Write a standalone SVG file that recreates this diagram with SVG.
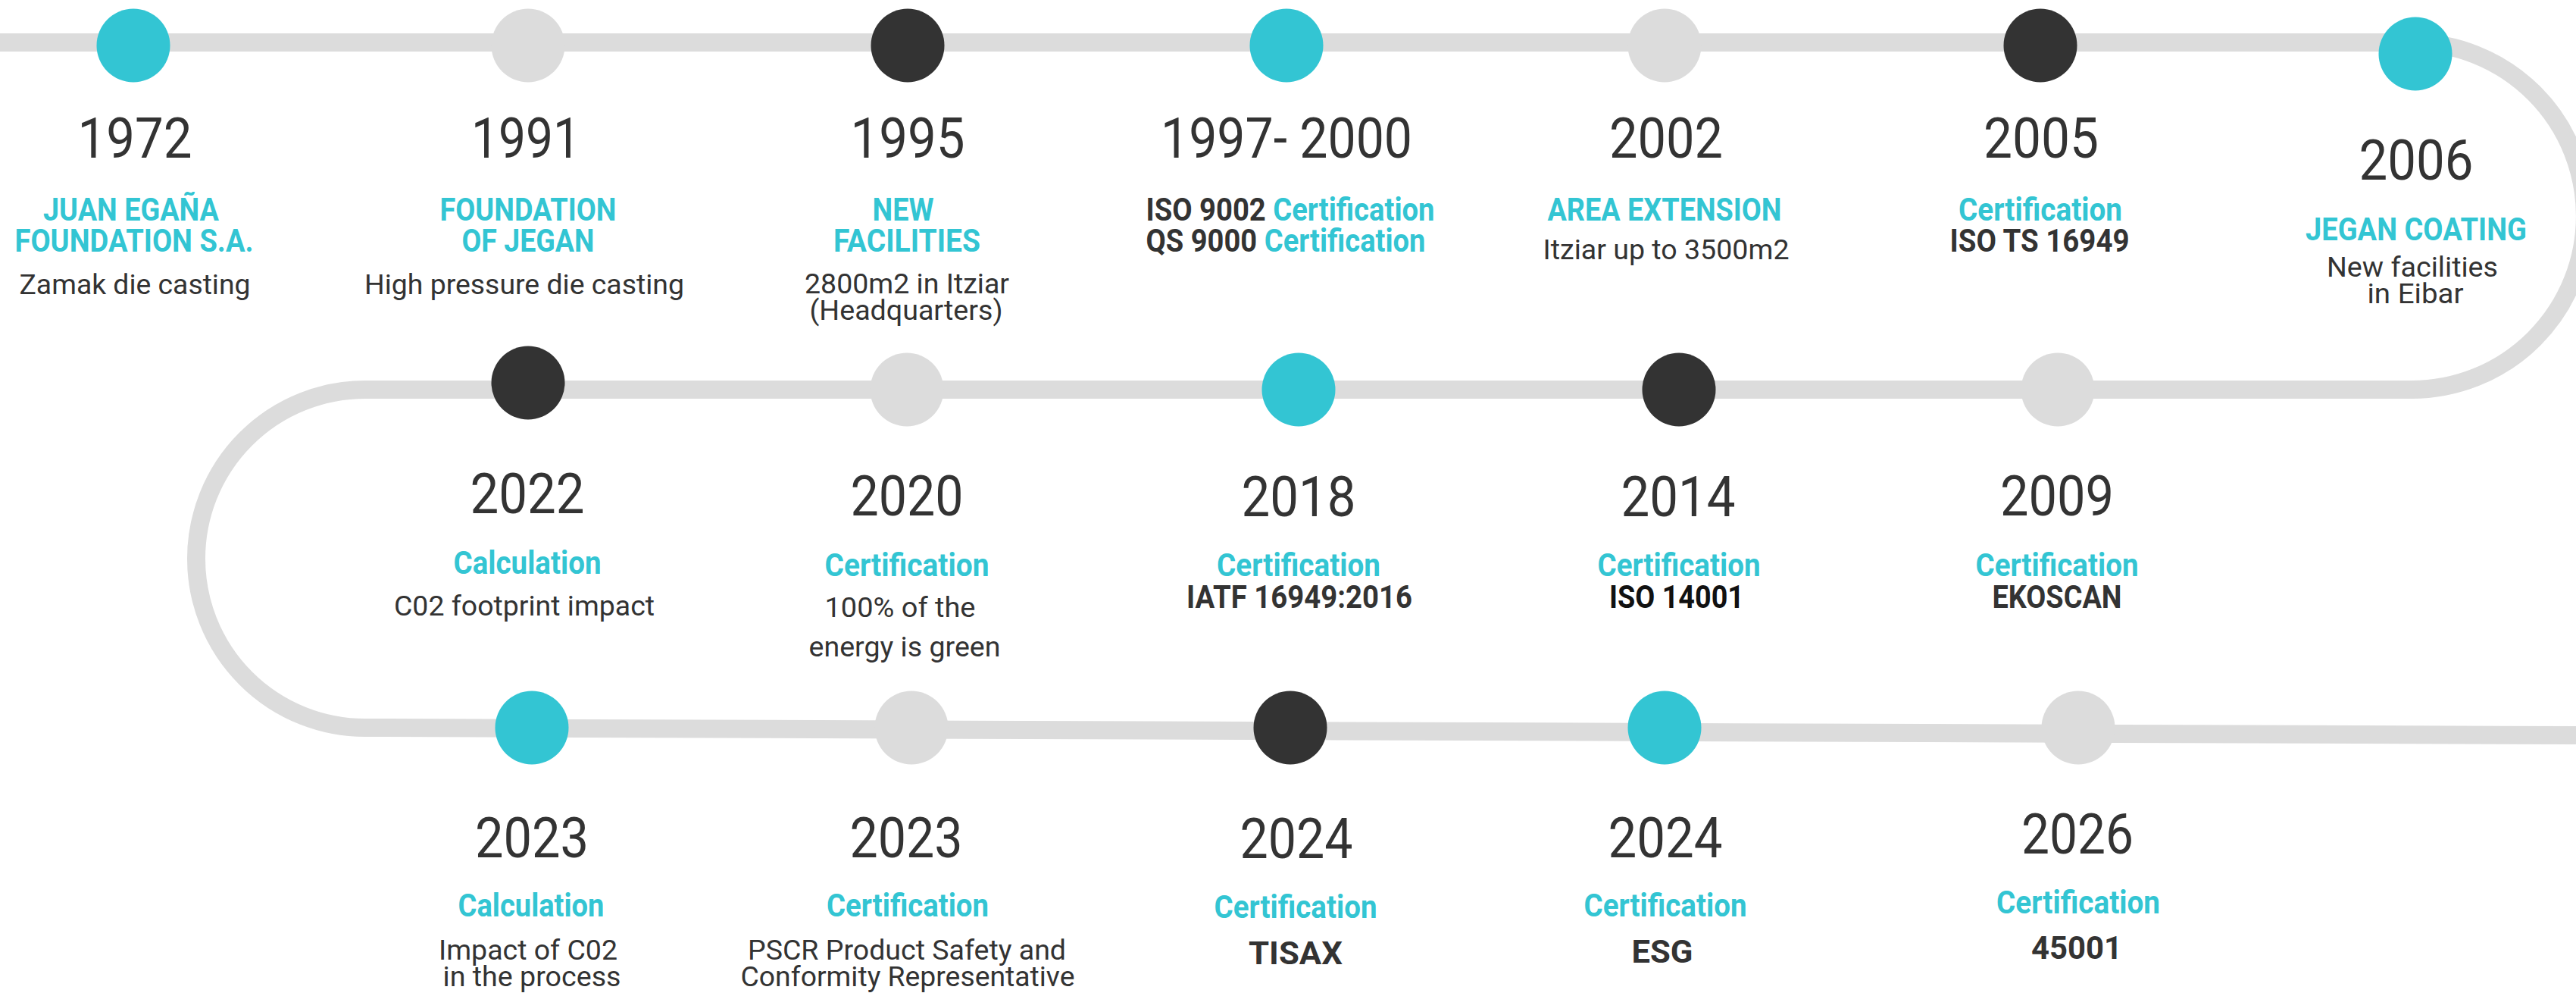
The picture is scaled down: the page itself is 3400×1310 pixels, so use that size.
<svg xmlns="http://www.w3.org/2000/svg" width="3400" height="1310" viewBox="0 0 3400 1310">
<style>
text{font-family:Roboto,"Liberation Sans",sans-serif;text-anchor:middle}
.yr{font-size:75px;font-weight:400;fill:#333}
.hd{font-size:42px;font-weight:700;fill:#33c5d3}
.bd{font-size:42px;font-weight:700;fill:#333}
.tx{font-size:37px;font-weight:400;fill:#333}
.t{fill:#33c5d3}
.c1{fill:#33c5d3}.c2{fill:#dcdcdc}.c3{fill:#333}
.path{fill:none;stroke:#dcdcdc;stroke-width:24}
</style>
<rect width="3400" height="1310" fill="#fff"/>
<g id="connectors">
<path class="path" d="M0 56 H3183 A229 229 0 0 1 3183 514 H482 A223 223 0 0 0 482 960 L3400 970"/>
</g>
<g id="n1972">
<circle class="c1" cx="176" cy="60" r="48.5"/>
<text class="yr" x="178" y="208" textLength="151" lengthAdjust="spacingAndGlyphs">1972</text>
<text class="hd" x="173" y="291" textLength="232" lengthAdjust="spacingAndGlyphs">JUAN EGAÑA</text>
<text class="hd" x="177" y="332" textLength="315" lengthAdjust="spacingAndGlyphs">FOUNDATION S.A.</text>
<text class="tx" x="178" y="388" textLength="305" lengthAdjust="spacingAndGlyphs">Zamak die casting</text>
</g>
<g id="n1991">
<circle class="c2" cx="697" cy="60" r="48.5"/>
<text class="yr" x="694" y="208" textLength="144" lengthAdjust="spacingAndGlyphs">1991</text>
<text class="hd" x="697" y="291" textLength="233" lengthAdjust="spacingAndGlyphs">FOUNDATION</text>
<text class="hd" x="697" y="332" textLength="175" lengthAdjust="spacingAndGlyphs">OF JEGAN</text>
<text class="tx" x="692" y="388" textLength="422" lengthAdjust="spacingAndGlyphs">High pressure die casting</text>
</g>
<g id="n1995">
<circle class="c3" cx="1198" cy="60" r="48.5"/>
<text class="yr" x="1198" y="208" textLength="151" lengthAdjust="spacingAndGlyphs">1995</text>
<text class="hd" x="1192" y="291" textLength="81" lengthAdjust="spacingAndGlyphs">NEW</text>
<text class="hd" x="1197" y="332" textLength="194" lengthAdjust="spacingAndGlyphs">FACILITIES</text>
<text class="tx" x="1197" y="387" textLength="270" lengthAdjust="spacingAndGlyphs">2800m2 in Itziar</text>
<text class="tx" x="1196" y="422" textLength="255" lengthAdjust="spacingAndGlyphs">(Headquarters)</text>
</g>
<g id="n1997">
<circle class="c1" cx="1698" cy="60" r="48.5"/>
<text class="yr" x="1698" y="208" textLength="332" lengthAdjust="spacingAndGlyphs">1997- 2000</text>
<text class="bd" x="1703" y="291" textLength="381" lengthAdjust="spacingAndGlyphs">ISO 9002 <tspan class="t">Certification</tspan></text>
<text class="bd" x="1697" y="332" textLength="369" lengthAdjust="spacingAndGlyphs">QS 9000 <tspan class="t">Certification</tspan></text>
</g>
<g id="n2002">
<circle class="c2" cx="2197" cy="60" r="48.5"/>
<text class="yr" x="2199" y="208" textLength="150" lengthAdjust="spacingAndGlyphs">2002</text>
<text class="hd" x="2197" y="291" textLength="309" lengthAdjust="spacingAndGlyphs">AREA EXTENSION</text>
<text class="tx" x="2199" y="342" textLength="325" lengthAdjust="spacingAndGlyphs">Itziar up to 3500m2</text>
</g>
<g id="n2005">
<circle class="c3" cx="2693" cy="60" r="48.5"/>
<text class="yr" x="2694" y="208" textLength="152" lengthAdjust="spacingAndGlyphs">2005</text>
<text class="hd" x="2693" y="291" textLength="216" lengthAdjust="spacingAndGlyphs">Certification</text>
<text class="bd" x="2692" y="332" textLength="237" lengthAdjust="spacingAndGlyphs">ISO TS 16949</text>
</g>
<g id="n2006">
<circle class="c1" cx="3188" cy="71" r="48.5"/>
<text class="yr" x="3189" y="237" textLength="151" lengthAdjust="spacingAndGlyphs">2006</text>
<text class="hd" x="3189" y="317" textLength="292" lengthAdjust="spacingAndGlyphs">JEGAN COATING</text>
<text class="tx" x="3184" y="365" textLength="226" lengthAdjust="spacingAndGlyphs">New facilities</text>
<text class="tx" x="3188" y="400" textLength="127" lengthAdjust="spacingAndGlyphs">in Eibar</text>
</g>
<g id="n2022">
<circle class="c3" cx="697" cy="505" r="48.5"/>
<text class="yr" x="696" y="677" textLength="151" lengthAdjust="spacingAndGlyphs">2022</text>
<text class="hd" x="696" y="757" textLength="195" lengthAdjust="spacingAndGlyphs">Calculation</text>
<text class="tx" x="692" y="812" textLength="344" lengthAdjust="spacingAndGlyphs">C02 footprint impact</text>
</g>
<g id="n2020">
<circle class="c2" cx="1197" cy="514" r="48.5"/>
<text class="yr" x="1197" y="680" textLength="149" lengthAdjust="spacingAndGlyphs">2020</text>
<text class="hd" x="1197" y="760" textLength="217" lengthAdjust="spacingAndGlyphs">Certification</text>
<text class="tx" x="1188" y="814" textLength="199" lengthAdjust="spacingAndGlyphs">100% of the</text>
<text class="tx" x="1194" y="866" textLength="253" lengthAdjust="spacingAndGlyphs">energy is green</text>
</g>
<g id="n2018">
<circle class="c1" cx="1714" cy="514" r="48.5"/>
<text class="yr" x="1714" y="681" textLength="151" lengthAdjust="spacingAndGlyphs">2018</text>
<text class="hd" x="1714" y="760" textLength="216" lengthAdjust="spacingAndGlyphs">Certification</text>
<text class="bd" x="1715" y="802" textLength="298" lengthAdjust="spacingAndGlyphs">IATF 16949:2016</text>
</g>
<g id="n2014">
<circle class="c3" cx="2216" cy="514" r="48.5"/>
<text class="yr" x="2215" y="681" textLength="151" lengthAdjust="spacingAndGlyphs">2014</text>
<text class="hd" x="2216" y="760" textLength="215" lengthAdjust="spacingAndGlyphs">Certification</text>
<text class="bd" x="2213" y="802" textLength="178" lengthAdjust="spacingAndGlyphs" style="fill:#111">ISO 14001</text>
</g>
<g id="n2009">
<circle class="c2" cx="2716" cy="514" r="48.5"/>
<text class="yr" x="2715" y="680" textLength="150" lengthAdjust="spacingAndGlyphs">2009</text>
<text class="hd" x="2715" y="760" textLength="215" lengthAdjust="spacingAndGlyphs">Certification</text>
<text class="bd" x="2715" y="802" textLength="171" lengthAdjust="spacingAndGlyphs">EKOSCAN</text>
</g>
<g id="n2023a">
<circle class="c1" cx="702" cy="960" r="48.5"/>
<text class="yr" x="702" y="1131" textLength="150" lengthAdjust="spacingAndGlyphs">2023</text>
<text class="hd" x="701" y="1209" textLength="193" lengthAdjust="spacingAndGlyphs">Calculation</text>
<text class="tx" x="697" y="1266" textLength="236" lengthAdjust="spacingAndGlyphs">Impact of C02</text>
<text class="tx" x="702" y="1301" textLength="235" lengthAdjust="spacingAndGlyphs">in the process</text>
</g>
<g id="n2023b">
<circle class="c2" cx="1203" cy="960" r="48.5"/>
<text class="yr" x="1196" y="1131" textLength="149" lengthAdjust="spacingAndGlyphs">2023</text>
<text class="hd" x="1198" y="1209" textLength="214" lengthAdjust="spacingAndGlyphs">Certification</text>
<text class="tx" x="1197" y="1266" textLength="420" lengthAdjust="spacingAndGlyphs">PSCR Product Safety and</text>
<text class="tx" x="1198" y="1301" textLength="441" lengthAdjust="spacingAndGlyphs">Conformity Representative</text>
</g>
<g id="n2024a">
<circle class="c3" cx="1703" cy="960" r="48.5"/>
<text class="yr" x="1711" y="1132" textLength="149" lengthAdjust="spacingAndGlyphs">2024</text>
<text class="hd" x="1710" y="1211" textLength="215" lengthAdjust="spacingAndGlyphs">Certification</text>
<text class="bd" x="1710" y="1272" textLength="124" lengthAdjust="spacingAndGlyphs">TISAX</text>
</g>
<g id="n2024b">
<circle class="c1" cx="2197" cy="960" r="48.5"/>
<text class="yr" x="2198" y="1131" textLength="151" lengthAdjust="spacingAndGlyphs">2024</text>
<text class="hd" x="2198" y="1209" textLength="215" lengthAdjust="spacingAndGlyphs">Certification</text>
<text class="bd" x="2194" y="1270" textLength="81" lengthAdjust="spacingAndGlyphs">ESG</text>
</g>
<g id="n2026">
<circle class="c2" cx="2743" cy="960" r="48.5"/>
<text class="yr" x="2742" y="1126" textLength="148" lengthAdjust="spacingAndGlyphs">2026</text>
<text class="hd" x="2743" y="1205" textLength="216" lengthAdjust="spacingAndGlyphs">Certification</text>
<text class="bd" x="2741" y="1265" textLength="120" lengthAdjust="spacingAndGlyphs">45001</text>
</g>
</svg>
